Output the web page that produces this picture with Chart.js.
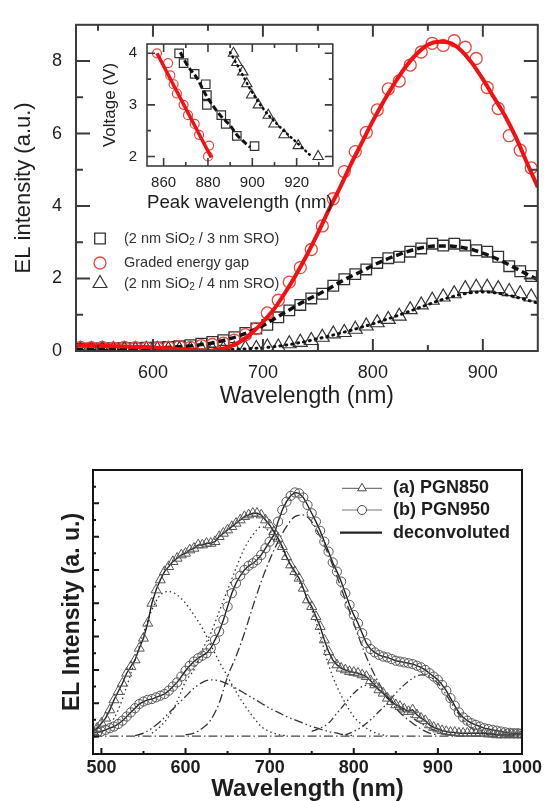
<!DOCTYPE html>
<html lang="en">
<head>
<meta charset="UTF-8">
<title>EL spectra</title>
<script src="https://cdn.jsdelivr.net/npm/chart.js"></script>
<style>
  html, body { margin: 0; padding: 0; background: #fff; overflow: hidden; }
  #wrap { position: relative; width: 547px; height: 801px; overflow: hidden; }
  canvas { position: absolute; }
  #top { left: 0; top: 0; }
  #inset { left: 95px; top: 25px; }
  #bottom { left: 0; top: 440px; }
</style>
</head>
<body>
<div id="wrap">
  <canvas id="top" width="547" height="420"></canvas>
  <canvas id="inset" width="245" height="195"></canvas>
  <canvas id="bottom" width="547" height="370"></canvas>
</div>
<script>
const _ = null;

// ---- upper panel: EL spectra ----
const topMarkWl = [534,544,554,564,574,584,594,604,614,624,634,644,654,664,674,684,694,704,714,724,734,744,754,764,774,784,794,804,814,824,834,844,854,864,874,884,894,904,914,924,934,944];
const sq3nm = [0.06,0.07,0.07,0.08,0.08,0.08,0.09,0.1,0.11,0.13,0.16,0.2,0.25,0.3,0.38,0.5,0.62,0.72,0.93,1.12,1.27,1.45,1.58,1.8,1.98,2.12,2.25,2.43,2.56,2.6,2.74,2.83,2.96,2.91,2.96,2.91,2.78,2.74,2.6,2.34,2.2,2.07];
const graded = [0.1,0.09,0.1,0.08,0.1,0.09,0.08,0.08,0.1,0.12,0.1,0.15,0.18,0.22,0.3,0.45,0.62,1.05,1.4,1.9,2.3,2.8,3.45,4.2,4.95,5.5,6.03,6.65,7.23,7.45,7.89,8.25,8.49,8.43,8.56,8.38,8.07,7.27,6.69,5.94,5.54,5.05];
const tri4nm = [0.04,0.04,0.04,0.04,0.04,0.04,0.04,0.04,0.04,0.04,0.04,0.04,0.04,0.05,0.05,0.07,0.07,0.11,0.11,0.2,0.24,0.29,0.38,0.47,0.51,0.6,0.69,0.78,0.87,0.96,1.14,1.27,1.4,1.49,1.58,1.72,1.76,1.76,1.72,1.64,1.58,1.49];

const topFitWl = [530,540,550,560,570,580,590,600,610,620,630,640,650,660,670,680,690,700,710,720,730,740,750,760,770,780,790,800,810,820,830,840,850,860,870,880,890,900,910,920,930,940,950];
const gradedFit = [0.15,0.15,0.14,0.14,0.13,0.12,0.11,0.1,0.08,0.06,0.04,0.02,0.0,0.04,0.12,0.27,0.5,0.8,1.15,1.6,2.1,2.65,3.25,3.9,4.5,5.15,5.75,6.35,6.9,7.4,7.85,8.2,8.45,8.53,8.5,8.3,7.95,7.5,7.0,6.5,5.9,5.2,4.52];
const sq3nmFit = [0.05,0.05,0.05,0.05,0.05,0.06,0.07,0.08,0.09,0.11,0.13,0.16,0.2,0.26,0.34,0.44,0.56,0.7,0.88,1.06,1.24,1.41,1.56,1.72,1.9,2.06,2.2,2.36,2.5,2.62,2.73,2.82,2.88,2.9,2.9,2.86,2.8,2.7,2.58,2.44,2.28,2.12,1.97];
const tri4nmFit = [0.02,0.02,0.02,0.02,0.02,0.02,0.02,0.02,0.02,0.02,0.02,0.02,0.02,0.03,0.04,0.05,0.07,0.09,0.12,0.16,0.21,0.27,0.34,0.41,0.49,0.57,0.66,0.75,0.85,0.95,1.06,1.17,1.28,1.39,1.48,1.56,1.61,1.63,1.61,1.56,1.49,1.41,1.32];

const topXTicks = [600, 700, 800, 900];
const topXMinor = [550, 650, 750, 850];
const topYTicks = [0, 2, 4, 6, 8];
const topYMinor = [1, 3, 5, 7];

// ---- inset: voltage vs peak wavelength ----
const insGradedWl = [857,862,863,864.5,866,869,871,874,876,880.5,880];
const insGradedV = [4.0,3.81,3.57,3.4,3.22,3.0,2.8,2.63,2.42,2.21,2.0];
const insGradedFitWl = [857,881.5];
const insGradedFitV = [4.0,1.98];
const insSqWl = [867,869,874,879,879.5,879.5,886,888,893,901];
const insSqV = [4.0,3.81,3.6,3.4,3.19,3.0,2.8,2.63,2.4,2.2];
const insSqFitWl = [867.5,870.5,875,879.5,885.5,890,893,899];
const insSqFitV = [4.02,3.78,3.52,3.16,2.8,2.6,2.42,2.18];
const insTriWl = [891.5,893,895.7,897.5,899.7,902.7,907.2,909.8,914.3,920.7,929.7];
const insTriV = [4.0,3.82,3.64,3.41,3.19,3.0,2.8,2.63,2.42,2.21,2.0];
const insTriFitWl = [890,894.5,899,905,912.5,920,926.7];
const insTriFitV = [4.02,3.67,3.31,2.92,2.57,2.27,2.0];
const insXTicks = [860, 880, 900, 920];
const insXMinor = [870, 890, 910, 930];
const insYTicks = [2, 3, 4];
const insYMinor = [2.5, 3.5];

// ---- lower panel: PGN850 / PGN950 ----
const botWl = [490,495,500,505,510,515,520,525,530,535,540,545,550,555,560,565,570,575,580,585,590,595,600,605,610,615,620,625,630,635,640,645,650,655,660,665,670,675,680,685,690,695,700,705,710,715,720,725,730,735,740,745,750,755,760,765,770,775,780,785,790,795,800,805,810,815,820,825,830,835,840,845,850,855,860,865,870,875,880,885,890,895,900,905,910,915,920,925,930,935,940,945,950,955,960,965,970,975,980,985,990,995,1000];
const pgn850 = [0.3,0.5,0.8,1.1,1.6,2.2,2.7,3.2,3.8,4.2,4.6,5.3,5.9,6.8,8.0,8.8,9.4,9.9,10.2,10.5,10.7,10.9,11.0,11.2,11.3,11.5,11.5,11.6,11.6,11.7,12.0,12.2,12.4,12.6,12.8,13.0,13.2,13.3,13.4,13.4,13.3,13.0,12.7,12.3,11.9,11.4,10.8,10.3,9.9,9.5,8.9,8.2,7.8,7.2,6.6,5.8,5.1,4.6,4.3,4.1,4.0,3.9,3.85,3.8,3.7,3.6,3.35,3.1,2.8,2.6,2.3,2.1,1.9,1.8,1.65,1.5,1.6,1.3,1.1,0.95,0.7,0.55,0.45,0.35,0.3,0.25,0.25,0.2,0.2,0.2,0.2,0.2,0.2,0.2,0.15,0.15,0.1,0.1,0.1,0.1,0.1,0.1,0.1];
const pgn950 = [0.2,0.25,0.3,0.4,0.5,0.6,0.75,0.95,1.2,1.45,1.7,1.95,2.1,2.2,2.25,2.35,2.45,2.55,2.75,3.0,3.25,3.6,3.95,4.25,4.5,4.7,4.85,5.0,5.3,5.8,6.3,7.0,7.8,8.6,9.2,9.65,10.0,10.25,10.4,10.6,10.9,11.3,11.7,12.1,12.9,13.6,14.1,14.45,14.65,14.6,14.35,13.9,13.4,12.9,12.35,11.7,11.1,10.45,9.9,9.3,8.6,7.9,7.3,6.8,6.2,5.6,5.25,5.05,4.9,4.8,4.75,4.65,4.55,4.5,4.45,4.4,4.35,4.25,4.15,4.0,3.8,3.6,3.4,3.1,2.75,2.3,1.85,1.45,1.15,0.95,0.8,0.7,0.6,0.5,0.45,0.4,0.35,0.3,0.25,0.22,0.2,0.2,0.18];

// deconvoluted components on a 10 nm grid
const compWl = [490,500,510,520,530,540,550,560,570,580,590,600,610,620,630,640,650,660,670,680,690,700,710,720,730,740,750,760,770,780,790,800,810,820,830,840,850,860,870,880,890,900,910,920,930,940,950,960,970,980,990,1000];
const comp1 = [0.05,0.2,0.7,1.6,3.0,4.6,6.2,7.6,8.5,8.7,8.5,8.0,7.3,6.5,5.5,4.5,3.6,2.7,1.9,1.2,0.6,0.3,0.12,0.05,_,_,_,_,_,_,_,_,_,_,_,_,_,_,_,_,_,_,_,_,_,_,_,_,_,_,_,_];
const comp2 = [_,_,_,_,_,_,_,0.2,0.6,1.2,2.1,3.3,4.0,5.2,6.2,7.5,8.8,10.1,11.3,12.1,12.6,12.3,11.7,10.7,9.7,8.8,7.6,6.1,4.3,3.0,2.0,1.2,0.7,0.35,0.15,0.05,_,_,_,_,_,_,_,_,_,_,_,_,_,_,_,_];
const comp3 = [_,_,_,_,_,_,_,_,_,_,_,_,_,_,_,_,_,_,_,_,_,_,_,_,_,_,0.3,0.5,0.8,1.4,2.0,2.6,3.0,3.1,2.8,2.4,1.9,1.5,1.1,0.8,0.5,0.3,0.15,0.05,_,_,_,_,_,_,_,_];
const comp4 = [_,_,_,_,_,0.05,0.2,0.5,0.9,1.4,1.9,2.4,2.9,3.25,3.4,3.35,3.15,2.9,2.6,2.3,2.0,1.7,1.45,1.2,1.0,0.8,0.6,0.45,0.3,0.2,0.1,0.05,_,_,_,_,_,_,_,_,_,_,_,_,_,_,_,_,_,_,_,_];
const comp5 = [_,_,_,_,_,_,_,_,_,_,_,0.1,0.2,0.5,1.0,2.0,3.6,4.8,6.2,7.8,9.3,10.6,11.7,12.6,13.2,13.3,12.9,12.0,10.9,9.6,8.2,6.8,5.4,4.2,3.2,2.4,1.7,1.2,0.8,0.45,0.2,0.1,_,_,_,_,_,_,_,_,_,_];
const comp6 = [_,_,_,_,_,_,_,_,_,_,_,_,_,_,_,_,_,_,_,_,_,_,_,_,_,_,_,_,_,_,0.1,0.3,0.6,1.0,1.5,2.0,2.6,3.1,3.5,3.7,3.6,3.2,2.5,1.7,1.0,0.5,0.2,0.1,_,_,_,_];
const baseWl = [490, 1000];
const baseVal = [0.02, 0.02];

const botXTicks = [500, 600, 700, 800, 900, 1000];
const botXMinor = [550, 650, 750, 850, 950];
const botYTicks = [0, 2, 4, 6, 8, 10, 12, 14];
const botYMinor = [1, 3, 5, 7, 9, 11, 13, 15];

const FONT = "'Liberation Sans', Arial, Helvetica, sans-serif";

function pts(xs, ys) { return xs.map((x, i) => ({ x: x, y: ys[i] })); }

// closed box with inward ticks
function makeFrame(cfg) {
  return {
    id: 'frame',
    afterDatasetsDraw(chart) {
      const ctx = chart.ctx, a = chart.chartArea;
      const xs = chart.scales.x, ys = chart.scales.y;
      ctx.save();
      ctx.strokeStyle = cfg.color;
      ctx.lineWidth = cfg.width;
      ctx.setLineDash([]);
      ctx.beginPath();
      const xt = (vals, len) => vals.forEach(v => {
        const p = xs.getPixelForValue(v);
        ctx.moveTo(p, a.bottom); ctx.lineTo(p, a.bottom - len);
        if (cfg.mirror) { ctx.moveTo(p, a.top); ctx.lineTo(p, a.top + len); }
      });
      const yt = (vals, len) => vals.forEach(v => {
        const p = ys.getPixelForValue(v);
        ctx.moveTo(a.left, p); ctx.lineTo(a.left + len, p);
        if (cfg.mirror) { ctx.moveTo(a.right, p); ctx.lineTo(a.right - len, p); }
      });
      xt(cfg.xMajor, cfg.xMajorLen);
      xt(cfg.xMinor, cfg.xMinorLen);
      yt(cfg.yMajor, cfg.yMajorLen);
      yt(cfg.yMinor, cfg.yMinorLen);
      ctx.stroke();
      ctx.strokeRect(a.left, a.top, a.right - a.left, a.bottom - a.top);
      ctx.restore();
    }
  };
}

// legend drawn inside the plot
function makeLegend(cfg) {
  return {
    id: 'boxLegend',
    afterDraw(chart) {
      const ctx = chart.ctx;
      ctx.save();
      ctx.textBaseline = 'middle';
      cfg.items.forEach(it => {
        if (it.line) {
          ctx.strokeStyle = it.line.color;
          ctx.lineWidth = it.line.width;
          ctx.setLineDash([]);
          ctx.beginPath();
          ctx.moveTo(it.line.x0, it.y);
          ctx.lineTo(it.line.x1, it.y);
          ctx.stroke();
        }
        if (it.marker) {
          ctx.strokeStyle = it.marker.color;
          ctx.fillStyle = it.marker.fill || '#fff';
          ctx.lineWidth = it.marker.width;
          Chart.helpers.drawPoint(ctx, { pointStyle: it.marker.style, radius: it.marker.radius, borderWidth: it.marker.width, rotation: 0 }, it.mx, it.y);
        }
        ctx.fillStyle = cfg.color;
        let x = it.tx;
        it.parts.forEach(p => {
          ctx.font = p.sub ? cfg.subFont : cfg.font;
          ctx.fillText(p.t, x, p.sub ? it.y + cfg.subShift : it.y);
          x += ctx.measureText(p.t).width;
        });
      });
      ctx.restore();
    }
  };
}

function markers(data, style, radius, color, width) {
  return {
    data: data, showLine: false, pointStyle: style, pointRadius: radius,
    pointBorderColor: color, pointBackgroundColor: 'rgba(0,0,0,0)', pointBorderWidth: width
  };
}
function curve(data, color, width, dash, cap) {
  return {
    data: data, showLine: true, pointRadius: 0, borderColor: color, borderWidth: width,
    borderDash: dash, borderCapStyle: cap || 'butt', cubicInterpolationMode: 'monotone', spanGaps: false
  };
}

function axisX(min, max, ticks, height, tickFont, pad, title, titleFont, titlePad) {
  return {
    type: 'linear', min: min, max: max,
    afterBuildTicks: s => { s.ticks = ticks.map(v => ({ value: v })); },
    afterFit: s => { s.height = height; },
    grid: { display: false, drawTicks: false },
    border: { display: false },
    ticks: { color: '#1e1e1e', font: tickFont, padding: pad, maxRotation: 0, autoSkip: false, callback: v => String(v) },
    title: { display: true, text: title, color: '#1e1e1e', font: titleFont, padding: { top: 0, bottom: titlePad } }
  };
}
function axisY(min, max, ticks, width, tickFont, pad, showLabels, title, titleFont, titlePad) {
  return {
    type: 'linear', min: min, max: max,
    afterBuildTicks: s => { s.ticks = ticks.map(v => ({ value: v })); },
    afterFit: s => { s.width = width; },
    grid: { display: false, drawTicks: false },
    border: { display: false },
    ticks: { display: showLabels, color: '#1e1e1e', font: tickFont, padding: pad, callback: v => String(v) },
    title: { display: true, text: title, color: '#1e1e1e', font: titleFont, padding: { top: titlePad, bottom: 0 } }
  };
}

const base = {
  responsive: false, animation: false, events: [],
  plugins: { legend: { display: false }, tooltip: { enabled: false } }
};

// upper panel
new Chart(document.getElementById('top'), {
  type: 'scatter',
  data: {
    datasets: [
      curve(pts(topFitWl, gradedFit), '#f41010', 4),
      curve(pts(topFitWl, sq3nmFit), '#111', 3.5, [7, 4]),
      curve(pts(topFitWl, tri4nmFit), '#111', 3, [1, 5], 'round'),
      markers(pts(topMarkWl, graded), 'circle', 6, '#e8463c', 1.3),
      markers(pts(topMarkWl, sq3nm), 'rect', 7.5, '#333', 1.3),
      markers(pts(topMarkWl, tri4nm), 'triangle', 8, '#333', 1.2)
    ]
  },
  options: Object.assign({}, base, {
    layout: { padding: { left: 0, top: 15, right: 1, bottom: 0 } },
    scales: {
      x: axisX(530, 950, topXTicks, 69, { family: FONT, size: 18 }, 11, 'Wavelength (nm)', { family: FONT, size: 23 }, 10),
      y: axisY(0, 9, topYTicks, 76, { family: FONT, size: 18 }, 14, true, 'EL intensity (a.u.)', { family: FONT, size: 22 }, 11)
    }
  }),
  plugins: [
    makeFrame({ color: '#3c3c3c', width: 2, mirror: true, xMajor: topXTicks, xMinor: topXMinor, yMajor: topYTicks, yMinor: topYMinor, xMajorLen: 12, xMinorLen: 6, yMajorLen: 14, yMinorLen: 7 }),
    makeLegend({
      font: '14.5px ' + FONT, subFont: '10px ' + FONT, subShift: 4, color: '#333',
      items: [
        { y: 238.5, mx: 100, tx: 124, marker: { style: 'rect', radius: 7.5, color: '#333', width: 1.3, fill: 'rgba(0,0,0,0)' },
          parts: [{ t: '(2 nm SiO' }, { t: '2', sub: true }, { t: ' / 3 nm SRO)' }] },
        { y: 263, mx: 100, tx: 124, marker: { style: 'circle', radius: 6, color: '#e8463c', width: 1.3, fill: 'rgba(0,0,0,0)' },
          parts: [{ t: 'Graded energy gap' }] },
        { y: 283.5, mx: 100, tx: 124, marker: { style: 'triangle', radius: 8, color: '#333', width: 1.2, fill: 'rgba(0,0,0,0)' },
          parts: [{ t: '(2 nm SiO' }, { t: '2', sub: true }, { t: ' / 4 nm SRO)' }] }
      ]
    })
  ]
});

// inset
new Chart(document.getElementById('inset'), {
  type: 'scatter',
  data: {
    datasets: [
      curve(pts(insGradedFitWl, insGradedFitV), '#f41010', 3.5),
      curve(pts(insSqFitWl, insSqFitV), '#111', 3, [6, 3]),
      curve(pts(insTriFitWl, insTriFitV), '#111', 2.5, [1, 4], 'round'),
      markers(pts(insGradedWl, insGradedV), 'circle', 4.5, '#e8463c', 1.2),
      markers(pts(insSqWl, insSqV), 'rect', 6, '#333', 1.2),
      markers(pts(insTriWl, insTriV), 'triangle', 6, '#333', 1.1)
    ]
  },
  options: Object.assign({}, base, {
    layout: { padding: { left: 0, top: 8, right: 7, bottom: 0 } },
    scales: {
      x: axisX(852.5, 936.3, insXTicks, 54, { family: FONT, size: 15 }, 8, 'Peak wavelength (nm)', { family: FONT, size: 19 }, 5.5),
      y: axisY(1.815, 4.18, insYTicks, 52, { family: FONT, size: 15 }, 10, true, 'Voltage (V)', { family: FONT, size: 17 }, 5)
    }
  }),
  plugins: [
    makeFrame({ color: '#3c3c3c', width: 1.6, mirror: true, xMajor: insXTicks, xMinor: insXMinor, yMajor: insYTicks, yMinor: insYMinor, xMajorLen: 8, xMinorLen: 4, yMajorLen: 8, yMinorLen: 4 })
  ]
});

// lower panel
new Chart(document.getElementById('bottom'), {
  type: 'scatter',
  data: {
    datasets: [
      Object.assign(markers(pts(botWl, pgn850), 'triangle', 5.8, '#555', 1), { showLine: true, borderColor: '#222', borderWidth: 1.4 }),
      Object.assign(markers(pts(botWl, pgn950), 'circle', 4.6, '#555', 1), { showLine: true, borderColor: '#222', borderWidth: 1.4 }),
      curve(pts(compWl, comp1), '#333', 1.3, [1.5, 3]),
      curve(pts(compWl, comp2), '#333', 1.3, [1.5, 3]),
      curve(pts(compWl, comp3), '#333', 1.3, [7, 3, 1.5, 3, 1.5, 3]),
      curve(pts(compWl, comp4), '#333', 1.3, [9, 3, 1.5, 3, 1.5, 3]),
      curve(pts(compWl, comp5), '#333', 1.3, [9, 3, 1.5, 3]),
      curve(pts(compWl, comp6), '#333', 1.3, [7, 3, 1.5, 3, 1.5, 3]),
      curve(pts(baseWl, baseVal), '#444', 1.3, [9, 3, 1.5, 3])
    ]
  },
  options: Object.assign({}, base, {
    layout: { padding: { left: 0, top: 30, right: 25, bottom: 0 } },
    scales: {
      x: axisX(490, 1000, botXTicks, 56, { family: FONT, size: 18, weight: 'bold' }, 3.5, 'Wavelength (nm)', { family: FONT, size: 24, weight: 'bold' }, 6),
      y: axisY(-1.05, 16, botYTicks, 93, { family: FONT, size: 18 }, 5, false, 'EL Intensity (a. u.)', { family: FONT, size: 23, weight: 'bold' }, 59)
    }
  }),
  plugins: [
    makeFrame({ color: '#151515', width: 2, mirror: false, xMajor: botXTicks, xMinor: botXMinor, yMajor: botYTicks, yMinor: botYMinor, xMajorLen: 6, xMinorLen: 3, yMajorLen: 6, yMinorLen: 3 }),
    makeLegend({
      font: 'bold 18px ' + FONT, subFont: 'bold 12px ' + FONT, subShift: 4, color: '#1e1e1e',
      items: [
        { y: 48.3, mx: 362, tx: 393, line: { x0: 342, x1: 382, color: '#777', width: 1.2 },
          marker: { style: 'triangle', radius: 5, color: '#444', width: 1, fill: '#fff' }, parts: [{ t: '(a) PGN850' }] },
        { y: 70, mx: 362, tx: 393, line: { x0: 342, x1: 382, color: '#777', width: 1.2 },
          marker: { style: 'circle', radius: 4.5, color: '#444', width: 1, fill: '#fff' }, parts: [{ t: '(b) PGN950' }] },
        { y: 92.7, tx: 393, line: { x0: 340, x1: 382, color: '#222', width: 2.2 }, parts: [{ t: 'deconvoluted' }] }
      ]
    })
  ]
});
</script>
</body>
</html>
